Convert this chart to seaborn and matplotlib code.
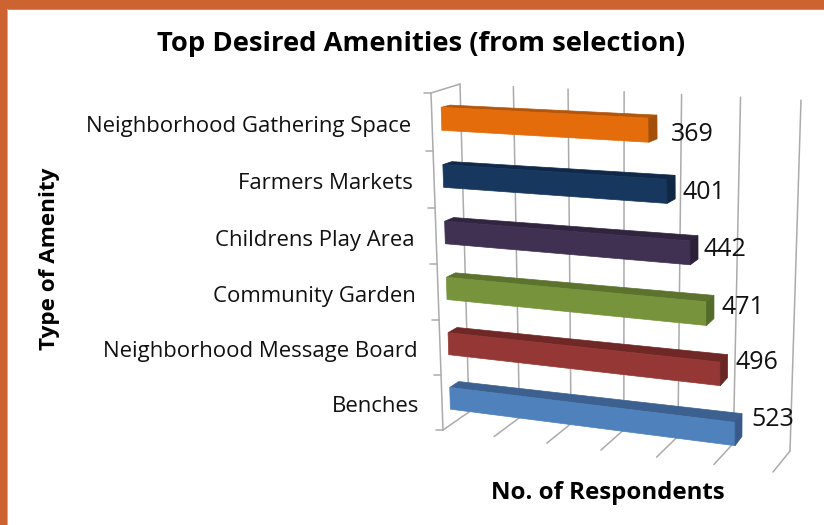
import numpy as np
import pandas as pd
import seaborn as sns
import matplotlib
matplotlib.use("Agg")
import matplotlib.pyplot as plt
import matplotlib.transforms as mtransforms
from matplotlib.patches import Rectangle

categories = ["Neighborhood Gathering Space", "Farmers Markets", "Childrens Play Area",
              "Community Garden", "Neighborhood Message Board", "Benches"]
respondents = [369, 401, 442, 471, 496, 523]
face_colors = ["#E46C0A", "#17375E", "#403152", "#77933C", "#953735", "#4F81BD"]
top_colors = ["#B3560B", "#10294A", "#30243F", "#5C732E", "#702827", "#3C6190"]
side_colors = ["#A5500A", "#0F2745", "#2B2038", "#556B29", "#6B2524", "#38598A"]
value_ticks = [0, 100, 200, 300, 400, 500, 600]
bar_width = 0.4


class Homography(mtransforms.Transform):
    # maps a plane on to four picture corners, gives the walls their perspective
    input_dims = 2
    output_dims = 2
    is_separable = False

    def __init__(self, src, dst):
        super().__init__()
        a = []
        b = []
        for (x, y), (u, v) in zip(src, dst):
            a.append([x, y, 1, 0, 0, 0, -u * x, -u * y])
            a.append([0, 0, 0, x, y, 1, -v * x, -v * y])
            b += [u, v]
        self.m = np.append(np.linalg.solve(np.array(a, float), np.array(b, float)), 1).reshape(3, 3)

    def transform_non_affine(self, values):
        values = np.asarray(values, float)
        p = np.column_stack([values, np.ones(len(values))]) @ self.m.T
        return p[:, :2] / p[:, 2:]


class Bilinear(mtransforms.Transform):
    # bars stay linear in value, the picture does that too. bow pushes the middle rows down a bit
    input_dims = 2
    output_dims = 2
    is_separable = False

    def __init__(self, vmax, rmin, rmax, corners, bow=0.034):
        super().__init__()
        self.vmax, self.rmin, self.rmax = vmax, rmin, rmax
        self.c = np.array(corners, float)
        self.bow = bow

    def transform_non_affine(self, values):
        values = np.asarray(values, float)
        s = (values[:, 0] / self.vmax)[:, None]
        t = ((values[:, 1] - self.rmin) / (self.rmax - self.rmin))[:, None]
        t = t + self.bow * t * (1 - t)
        return (1 - t) * ((1 - s) * self.c[0] + s * self.c[1]) + t * ((1 - s) * self.c[2] + s * self.c[3])


front = Bilinear(600, -0.5, 5.5, [(440.6, 90), (778.6, 106.2), (450.9, 425.4), (776.9, 468.6)])
back = Bilinear(600, -0.5, 5.5, [(449.6, 88), (786.6, 103), (459.9, 419), (783.4, 458.6)])
side_wall = Bilinear(1, -0.5, 5.5, [(431, 93), (460, 84), (443, 430), (469, 412)])
unit = [(0, 0), (600, 0), (0, 1), (600, 1)]
wall = Homography(unit, [(460, 84), (801, 100), (469, 412), (790, 451)])
floor = Homography(unit, [(469, 412), (790, 451), (443, 430), (773, 472)])

sns.set_theme(style="white")
plt.rcParams["font.family"] = ["Open Sans", "DejaVu Sans"]

df = pd.DataFrame({"category": categories, "respondents": respondents})

fig = plt.figure(figsize=(8.24, 5.25), dpi=100)
ax = fig.add_axes([0, 0, 1, 1])
sns.barplot(data=df, x="respondents", y="category", hue="category", order=categories,
            hue_order=categories, palette=face_colors, width=bar_width, saturation=1,
            legend=False, ax=ax)
for p, c in zip(ax.patches, face_colors):
    p.set_transform(front + ax.transData)
    p.set_edgecolor(c)
    p.set_linewidth(0.5)
    p.set_zorder(3)
ax.set_xlim(0, 824)
ax.set_ylim(525, 0)
ax.axis("off")

# walls and floor
grid = dict(color="#ababab", lw=1.1, zorder=1, solid_capstyle="round")
for t in value_ticks:
    pts = wall.transform(np.array([[t, 0], [t, 1]], float))
    ax.plot(pts[:, 0], pts[:, 1], **grid)
    pts = floor.transform(np.array([[t, 0], [t, 1]], float))
    ax.plot(pts[:, 0], pts[:, 1], **grid)
pts = side_wall.transform(np.array([[0, r] for r in np.arange(-0.5, 6)], float))
ax.plot(pts[:, 0], pts[:, 1], **grid)
for x, y in pts:
    ax.plot([x - 7, x], [y, y], **grid)
pts = side_wall.transform(np.array([[0, -0.5], [1, -0.5]], float))
ax.plot(pts[:, 0], pts[:, 1], **grid)

# top and end of each bar
for i, v in enumerate(respondents):
    t = i - bar_width / 2
    b = i + bar_width / 2
    f = front.transform(np.array([[0, t], [v, t], [v, b]], float))
    k = back.transform(np.array([[0, t], [v, t], [v, b]], float))
    ax.fill([f[0, 0], f[1, 0], k[1, 0], k[0, 0]], [f[0, 1], f[1, 1], k[1, 1], k[0, 1]],
            color=top_colors[i], lw=0.5, zorder=2)
    ax.fill([f[1, 0], k[1, 0], k[2, 0], f[2, 0]], [f[1, 1], k[1, 1], k[2, 1], f[2, 1]],
            color=side_colors[i], lw=0.5, zorder=4)

label_dx = [22, 15, 13, 15, 15, 16]
label_dy = [4, 1, -3, -6, -11, -15]
for i, (name, v) in enumerate(zip(categories, respondents)):
    x, y = front.transform(np.array([[0, i]], float))[0]
    ax.text(x - 30.5, y + 8, name, ha="right", va="center", fontsize=15.9, color="#111111")
    x, y = front.transform(np.array([[v, i]], float))[0]
    ax.text(x + label_dx[i], y + label_dy[i], str(v), ha="left", va="center", fontsize=18, color="#111111")

ax.text(421, 44, "Top Desired Amenities (from selection)", ha="center", va="center",
        fontsize=19.7, fontweight="bold", color="black")
ax.text(50, 259, "Type of Amenity", rotation=90, ha="center", va="center",
        fontsize=16.2, fontweight="bold", color="black")
ax.text(608, 493, "No. of Respondents", ha="center", va="center",
        fontsize=17.3, fontweight="bold", color="black")

# slide border
fig.add_artist(Rectangle((0, 1 - 9 / 525), 1, 9 / 525, transform=fig.transFigure, color="#CD6330", lw=0))
fig.add_artist(Rectangle((0, 0), 7 / 824, 1, transform=fig.transFigure, color="#CD6330", lw=0))
fig.add_artist(Rectangle((7 / 824, 1 - 10 / 525), 1, 1 / 525, transform=fig.transFigure, color="#9a9a9a", lw=0))
fig.add_artist(Rectangle((7 / 824, 0), 1 / 824, 1 - 9 / 525, transform=fig.transFigure, color="#b5b5b5", lw=0))

fig.savefig("out.png", dpi=100)
